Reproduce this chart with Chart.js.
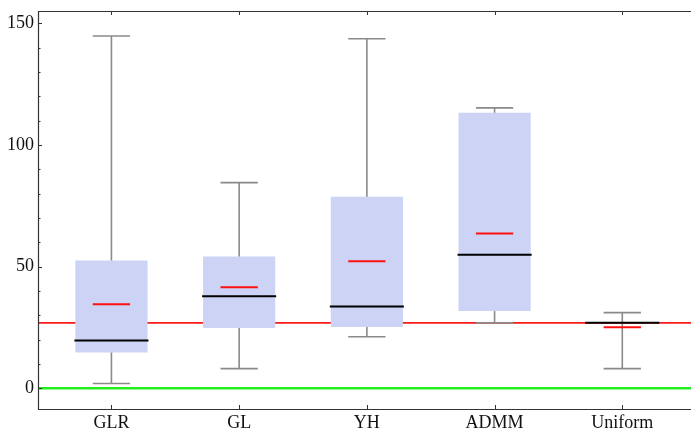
<!DOCTYPE html>
<html>
<head>
<meta charset="utf-8">
<script src="https://cdn.jsdelivr.net/npm/chart.js@4/dist/chart.umd.min.js"></script>
<style>
  html, body { margin: 0; padding: 0; background: #fff; }
  #wrap { width: 691px; height: 429px; }
</style>
</head>
<body>
<div id="wrap"><canvas id="chart" width="691" height="429"></canvas></div>
<script>
// --- data ---
const categories = ['GLR', 'GL', 'YH', 'ADMM', 'Uniform'];
const whiskerLow  = [2.0, 8.1, 21.2, 26.9, 8.1];
const boxLow      = [14.7, 24.8, 25.2, 31.8, 26.9];
const medians     = [19.6, 37.8, 33.6, 54.9, 26.9];
const means       = [34.5, 41.5, 52.2, 63.6, 25.1];
const boxHigh     = [52.5, 54.1, 78.7, 113.2, 26.9];
const whiskerHigh = [144.7, 84.5, 143.6, 115.2, 31.1];
const refLevel = 26.9;   // red reference line
const zeroLevel = 0;     // green baseline
const yTicks = [0, 50, 100, 150];

const X_MIN = 0.425, X_MAX = 5.538;
const Y_MIN = -8.5, Y_MAX = 155;

const frameColor = '#333333';
const serif = "'Liberation Serif', 'DejaVu Serif', serif";

// whiskers, medians, means and the frame drawn through the scales
const boxDecor = {
    id: 'boxDecor',
    afterDatasetsDraw(chart) {
        const { ctx, scales: { x, y } } = chart;
        const capHalf = 0.146, medHalf = 0.29, meanHalf = 0.146;
        ctx.save();
        categories.forEach((c, i) => {
            const cx = x.getPixelForValue(i + 1);
            const w = (v) => x.getPixelForValue(i + 1 + v) - cx;
            // whiskers
            ctx.strokeStyle = '#8a8a8a';
            ctx.lineWidth = 1.6;
            ctx.beginPath();
            ctx.moveTo(cx, y.getPixelForValue(whiskerHigh[i]));
            ctx.lineTo(cx, y.getPixelForValue(boxHigh[i]));
            ctx.moveTo(cx, y.getPixelForValue(boxLow[i]));
            ctx.lineTo(cx, y.getPixelForValue(whiskerLow[i]));
            ctx.stroke();
            ctx.beginPath();
            [whiskerHigh[i], whiskerLow[i]].forEach(v => {
                const py = y.getPixelForValue(v);
                ctx.moveTo(cx - w(capHalf), py);
                ctx.lineTo(cx + w(capHalf), py);
            });
            ctx.stroke();
            // median
            ctx.strokeStyle = '#000';
            ctx.lineWidth = 2;
            ctx.beginPath();
            const my = y.getPixelForValue(medians[i]);
            ctx.moveTo(cx - w(medHalf), my);
            ctx.lineTo(cx + w(medHalf), my);
            ctx.stroke();
            // mean
            ctx.strokeStyle = '#ff1010';
            ctx.beginPath();
            const ay = y.getPixelForValue(means[i]);
            ctx.moveTo(cx - w(meanHalf), ay);
            ctx.lineTo(cx + w(meanHalf), ay);
            ctx.stroke();
        });

        // frame (right side runs off the canvas)
        const a = chart.chartArea;
        ctx.strokeStyle = frameColor;
        ctx.lineWidth = 1.2;
        ctx.beginPath();
        ctx.moveTo(a.right, a.top + 0.5);
        ctx.lineTo(a.left + 0.5, a.top + 0.5);
        ctx.lineTo(a.left + 0.5, a.bottom + 0.5);
        ctx.lineTo(a.right, a.bottom + 0.5);
        ctx.stroke();

        // inward ticks
        ctx.lineWidth = 1;
        ctx.beginPath();
        for (let v = 0; v <= 150; v += 10) {
            const py = Math.round(y.getPixelForValue(v)) + 0.5;
            const len = v % 50 === 0 ? 4 : 2.5;
            ctx.moveTo(a.left, py);
            ctx.lineTo(a.left + len, py);
        }
        categories.forEach((c, i) => {
            const px = Math.round(x.getPixelForValue(i + 1)) + 0.5;
            ctx.moveTo(px, a.bottom);
            ctx.lineTo(px, a.bottom - 4);
            ctx.moveTo(px, a.top);
            ctx.lineTo(px, a.top + 4);
        });
        ctx.stroke();
        ctx.restore();
    }
};

const noPad = (s) => { s.paddingTop = 0; s.paddingBottom = 0; s.paddingLeft = 0; s.paddingRight = 0; };

const ctx = document.getElementById('chart').getContext('2d');
new Chart(ctx, {
    data: {
        datasets: [
            {
                type: 'bar',
                data: categories.map((c, i) => ({ x: i + 1, y: [boxLow[i], boxHigh[i]] })),
                backgroundColor: '#ccd3f4',
                borderWidth: 0,
                categoryPercentage: 1,
                barPercentage: 0.565,
                order: 1
            },
            {
                type: 'line',
                data: [{ x: X_MIN, y: refLevel }, { x: X_MAX, y: refLevel }],
                borderColor: '#ff1a1a',
                borderWidth: 1.8,
                pointRadius: 0,
                order: 2
            },
            {
                type: 'line',
                data: [{ x: X_MIN, y: zeroLevel }, { x: X_MAX, y: zeroLevel }],
                borderColor: '#22ee22',
                borderWidth: 2.5,
                pointRadius: 0,
                order: 2
            }
        ]
    },
    options: {
        responsive: false,
        animation: false,
        layout: { padding: { top: 11, right: 0, left: 0, bottom: 0 } },
        plugins: { legend: { display: false }, tooltip: { enabled: false } },
        scales: {
            x: {
                type: 'linear',
                offset: false,
                min: X_MIN,
                max: X_MAX,
                afterFit: (s) => { s.height = 20; noPad(s); },
                afterBuildTicks: (s) => { s.ticks = categories.map((c, i) => ({ value: i + 1 })); },
                grid: { display: false, drawTicks: false, offset: false },
                border: { display: false },
                ticks: {
                    padding: 3,
                    color: '#111',
                    font: { family: serif, size: 18 },
                    callback: (v) => categories[v - 1] || ''
                }
            },
            y: {
                type: 'linear',
                min: Y_MIN,
                max: Y_MAX,
                afterFit: (s) => { s.width = 38; noPad(s); },
                afterBuildTicks: (s) => { s.ticks = yTicks.map(v => ({ value: v })); },
                grid: { display: false, drawTicks: false },
                border: { display: false },
                ticks: {
                    padding: 4,
                    color: '#111',
                    font: { family: serif, size: 18 }
                }
            }
        }
    },
    plugins: [boxDecor]
});
</script>
</body>
</html>
